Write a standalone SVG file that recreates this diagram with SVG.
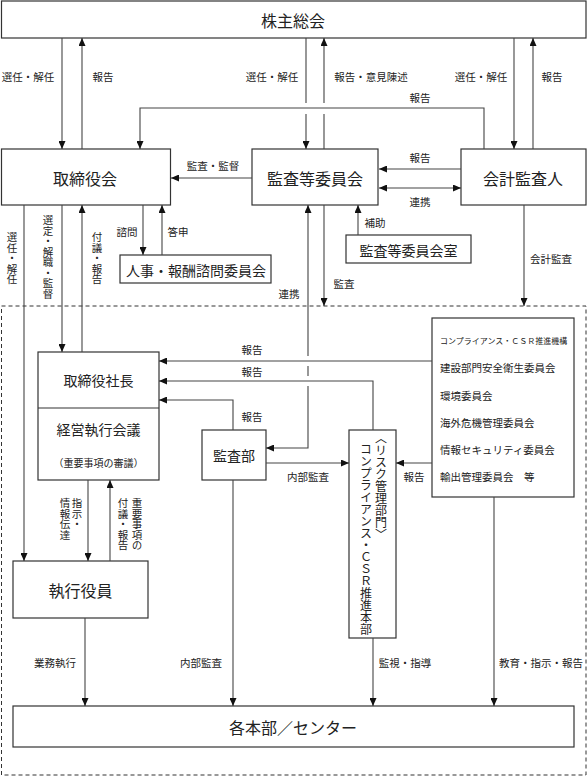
<svg xmlns="http://www.w3.org/2000/svg" width="587" height="777" viewBox="0 0 587 777">
<style>
text{font-family:"Noto Sans CJK JP","Noto Sans CJK SC",sans-serif;fill:#222;}
.b{fill:#fff;stroke:#333;stroke-width:1.2;}
.t16{font-size:16px;text-anchor:middle;dominant-baseline:central;}
.t14{font-size:14px;text-anchor:middle;dominant-baseline:central;}
.l{font-size:10.5px;text-anchor:middle;dominant-baseline:central;}
.ls{font-size:10.5px;text-anchor:start;dominant-baseline:central;}
.v{font-size:10.5px;writing-mode:vertical-rl;text-anchor:start;}
.v12{font-size:12px;writing-mode:vertical-rl;text-anchor:start;}
.c{fill:none;stroke:#444;stroke-width:1.1;marker-end:url(#ah);}
.d{marker-start:url(#ah);}
</style>
<defs>
<marker id="ah" viewBox="0 0 8 7" refX="8" refY="3.5" markerWidth="8" markerHeight="7" markerUnits="userSpaceOnUse" orient="auto-start-reverse">
<path d="M0,0 L8,3.5 L0,7 z" fill="#111"/>
</marker>
</defs>
<rect width="587" height="777" fill="#fff"/>

<g id="outer-area">
<rect x="1.5" y="306" width="584.5" height="469" fill="none" stroke="#333" stroke-width="1" stroke-dasharray="4,3"/>
</g>

<g id="kabunushi">
<rect class="b" x="1.5" y="1" width="584.5" height="37"/>
<text class="t16" x="293" y="19.5">株主総会</text>
</g>
<g id="torishimariyakukai">
<rect class="b" x="1.5" y="149" width="169" height="56"/>
<text class="t16" x="85" y="178">取締役会</text>
</g>
<g id="kansatouiinkai">
<rect class="b" x="252" y="149" width="126" height="56"/>
<text class="t16" x="315" y="178">監査等委員会</text>
</g>
<g id="kaikeikansanin">
<rect class="b" x="461" y="149" width="125" height="56"/>
<text class="t16" x="523" y="178">会計監査人</text>
</g>
<g id="jinji">
<rect class="b" x="120" y="255" width="151" height="28"/>
<text class="t14" x="196" y="269.5">人事・報酬諮問委員会</text>
</g>
<g id="kansashitsu">
<rect class="b" x="346" y="235" width="125" height="28"/>
<text class="t14" x="408.5" y="249.5">監査等委員会室</text>
</g>
<g id="shachou">
<rect class="b" x="38" y="352" width="121" height="128"/>
<line x1="38" y1="408" x2="159" y2="408" stroke="#333" stroke-width="1.2"/>
<text class="t14" x="98.5" y="380">取締役社長</text>
<text class="t14" x="98.5" y="429">経営執行会議</text>
<text x="98.5" y="462" style="font-size:10px;text-anchor:middle;dominant-baseline:central;">（重要事項の審議）</text>
</g>
<g id="kansabu">
<rect class="b" x="202" y="430" width="64" height="50"/>
<text class="t14" x="234" y="455">監査部</text>
</g>
<g id="risk">
<rect class="b" x="349" y="430" width="47" height="208"/>
<text class="v12" x="381" y="432">〈リスク管理部門〉</text>
<text class="v12" x="366" y="443">コンプライアンス・ＣＳＲ推進本部</text>
</g>
<g id="kikou">
<rect class="b" x="432" y="318" width="142" height="179"/>
<text x="440" y="340" style="font-size:8px;dominant-baseline:central;">コンプライアンス・ＣＳＲ推進機構</text>
<text class="ls" x="440" y="367">建設部門安全衛生委員会</text>
<text class="ls" x="440" y="395">環境委員会</text>
<text class="ls" x="440" y="422">海外危機管理委員会</text>
<text class="ls" x="440" y="449">情報セキュリティ委員会</text>
<text class="ls" x="440" y="476">輸出管理委員会　等</text>
</g>
<g id="shikkouyakuin">
<rect class="b" x="13" y="561" width="135" height="57"/>
<text class="t16" x="80.5" y="589.5">執行役員</text>
</g>
<g id="kakuhonbu">
<rect class="b" x="13" y="706" width="561" height="41"/>
<text class="t16" x="293" y="726.5">各本部／センター</text>
</g>

<g id="connectors">
<path class="c" d="M62,38 V149"/>
<path class="c" d="M82,149 V38"/>
<path class="c" d="M306,38 V103 M306,114 V149"/>
<path class="c" d="M324,149 V114 M324,103 V38"/>
<path class="c" d="M514,38 V149"/>
<path class="c" d="M533,149 V38"/>
<path class="c" d="M484,149 V108 H140 V149"/>
<path class="c" d="M252,178 H171"/>
<path class="c" d="M461,169 H379"/>
<path class="c d" d="M379,188 H461"/>
<path class="c" d="M24,205 V561"/>
<path class="c" d="M62,205 V352"/>
<path class="c" d="M82,352 V205"/>
<path class="c" d="M143,205 V255"/>
<path class="c" d="M162,255 V205"/>
<path class="c d" d="M266,448 H308 V386 M308,376 V366 M308,356 V205"/>
<path class="c" d="M324,205 V306"/>
<path class="c" d="M358,235 V205"/>
<path class="c" d="M524,205 V306"/>
<path class="c" d="M432,361 H159"/>
<path class="c" d="M373,430 V381 H159"/>
<path class="c" d="M233,430 V400 H159"/>
<path class="c" d="M266,463 H349"/>
<path class="c" d="M432,463 H396"/>
<path class="c" d="M88,480 V561"/>
<path class="c" d="M110,561 V480"/>
<path class="c" d="M85,618 V706"/>
<path class="c" d="M233,480 V706"/>
<path class="c" d="M373,638 V706"/>
<path class="c" d="M494,497 V706"/>
</g>

<g id="labels">
<text class="l" x="28" y="76">選任・解任</text>
<text class="l" x="103" y="76">報告</text>
<text class="l" x="272" y="76">選任・解任</text>
<text class="l" x="371" y="76">報告・意見陳述</text>
<text class="l" x="481" y="76">選任・解任</text>
<text class="l" x="552" y="76">報告</text>
<text class="l" x="420" y="97">報告</text>
<text class="l" x="213" y="165">監査・監督</text>
<text class="l" x="420" y="157">報告</text>
<text class="l" x="420" y="201">連携</text>
<text class="v" x="12" y="232">選任・解任</text>
<text class="v" x="48" y="215">選定・解職・監督</text>
<text class="v" x="97" y="232">付議・報告</text>
<text class="l" x="127" y="231">諮問</text>
<text class="l" x="178" y="231">答申</text>
<text class="l" x="375" y="222">補助</text>
<text class="l" x="344" y="283">監査</text>
<text class="l" x="551" y="258">会計監査</text>
<text class="l" x="289" y="293">連携</text>
<text class="l" x="252" y="349">報告</text>
<text class="l" x="252" y="371">報告</text>
<text class="l" x="252" y="416">報告</text>
<text class="l" x="308" y="476">内部監査</text>
<text class="l" x="414" y="476">報告</text>
<text class="v" x="77" y="498">指示・</text>
<text class="v" x="65" y="498">情報伝達</text>
<text class="v" x="137" y="498">重要事項の</text>
<text class="v" x="123" y="498">付議・報告</text>
<text class="l" x="55" y="662">業務執行</text>
<text class="l" x="201" y="662">内部監査</text>
<text class="l" x="405" y="662">監視・指導</text>
<text class="ls" x="499" y="662">教育・指示・報告</text>
</g>
</svg>
